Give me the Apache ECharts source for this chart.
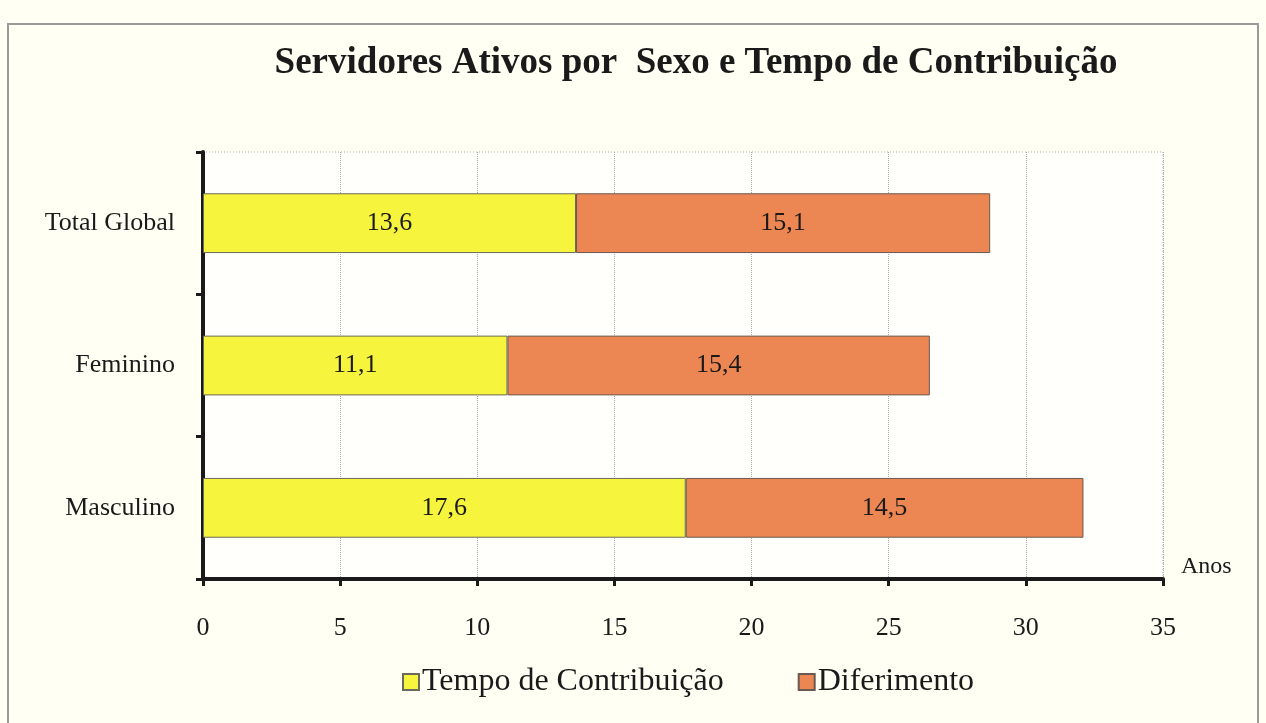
<!DOCTYPE html>
<html lang="pt">
<head>
<meta charset="UTF-8">
<title>Servidores Ativos por Sexo e Tempo de Contribuição</title>
<script src="https://cdn.jsdelivr.net/npm/echarts@6/dist/echarts.min.js"></script>
<style>
  html, body { margin: 0; padding: 0; background: #fffff4; }
  #chart { width: 1266px; height: 723px; }
</style>
</head>
<body>
<div id="chart"></div>
<script>
// dados
var categorias = ['Total Global', 'Feminino', 'Masculino'];
var tempoContribuicao = [13.6, 11.1, 17.6];
var diferimento = [15.1, 15.4, 14.5];
var ticksAnos = [0, 5, 10, 15, 20, 25, 30, 35];

var fonte = '"Liberation Serif", "DejaVu Serif", serif';
var chart = echarts.init(document.getElementById('chart'));

function rotulo(p) {
    return String(p.value).replace('.', ',');
}

var option = {
    backgroundColor: '#fffff4',
    textStyle: { fontFamily: fonte },
    graphic: [{
        type: 'rect',
        shape: { x: 8, y: 24, width: 1250, height: 720 },
        style: { fill: 'none', stroke: '#9a9a9a', lineWidth: 2 },
        silent: true,
        z: -10
    }, {
        type: 'rect',
        shape: { x: 203, y: 152, width: 960, height: 427 },
        style: { fill: '#fffffb', stroke: '#a8a8a8', lineWidth: 1, lineDash: [1, 2] },
        silent: true,
        z: -5
    }],
    title: {
        text: 'Servidores Ativos por  Sexo e Tempo de Contribuição',
        left: 691,
        textAlign: 'center',
        top: 40,
        textStyle: { fontFamily: fonte, fontSize: 37, fontWeight: 'bold', color: '#1a1a1a' }
    },
    legend: {
        data: ['Tempo de Contribuição', 'Diferimento'],
        left: 397,
        top: 661,
        icon: 'rect',
        itemWidth: 16,
        itemHeight: 16,
        itemGap: 74,
        textStyle: { fontFamily: fonte, fontSize: 32, color: '#1a1a1a', padding: [0, 0, 0, -2] }
    },
    grid: { left: 203, right: 103, top: 152, bottom: 144 },
    xAxis: {
        type: 'value',
        min: 0,
        max: 35,
        interval: 5,
        name: 'Anos',
        nameLocation: 'end',
        nameGap: 18,
        nameTextStyle: { fontFamily: fonte, fontSize: 24, color: '#1a1a1a', verticalAlign: 'bottom', padding: [0, 0, 0, 0] },
        axisLine: { show: true, lineStyle: { color: '#1a1a1a', width: 4 } },
        axisTick: { show: true, length: 7, lineStyle: { color: '#1a1a1a', width: 3 } },
        axisLabel: {
            margin: 36,
            fontFamily: fonte,
            fontSize: 26,
            color: '#1a1a1a',
            formatter: function (v) { return ticksAnos.indexOf(v) >= 0 ? String(v) : ''; }
        },
        splitLine: { show: true, lineStyle: { color: '#a8a8a8', width: 1, type: 'dotted' } }
    },
    yAxis: {
        type: 'category',
        inverse: true,
        data: categorias,
        axisLine: { show: true, lineStyle: { color: '#1a1a1a', width: 4 } },
        axisTick: { show: true, length: 7, lineStyle: { color: '#1a1a1a', width: 3 } },
        axisLabel: { margin: 28, fontFamily: fonte, fontSize: 26, color: '#1a1a1a', padding: [8, 0, 0, 0] },
        splitLine: { show: false }
    },
    series: [{
        name: 'Tempo de Contribuição',
        type: 'bar',
        stack: 'total',
        barWidth: '42%',
        data: tempoContribuicao,
        itemStyle: { color: '#f6f43c', borderColor: '#6a6a5a', borderWidth: 1 },
        label: { show: true, position: 'inside', formatter: rotulo, fontFamily: fonte, fontSize: 26, color: '#1a1a1a' }
    }, {
        name: 'Diferimento',
        type: 'bar',
        stack: 'total',
        barWidth: '42%',
        data: diferimento,
        itemStyle: { color: '#ec8653', borderColor: '#6a5a50', borderWidth: 1 },
        label: { show: true, position: 'inside', formatter: rotulo, fontFamily: fonte, fontSize: 26, color: '#1a1a1a' }
    }]
};

chart.setOption(option);
</script>
</body>
</html>
